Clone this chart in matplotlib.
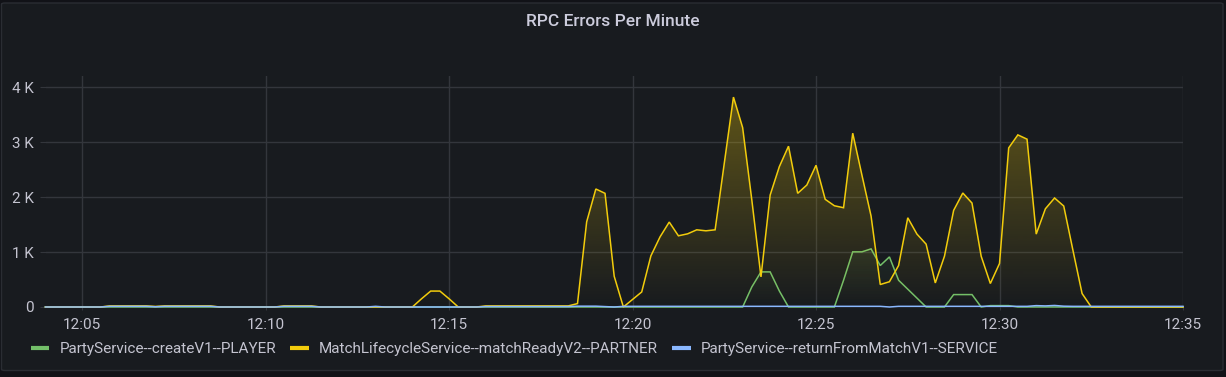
import numpy as np
import pandas as pd
import matplotlib
matplotlib.use('Agg')
import matplotlib.pyplot as plt
import matplotlib.dates as mdates
from matplotlib.colors import to_rgb
from matplotlib.lines import Line2D
from matplotlib.patches import FancyBboxPatch
from matplotlib.ticker import FuncFormatter, MultipleLocator

plt.rcParams['font.family'] = ['Roboto', 'DejaVu Sans']

day = '2023-01-01 '

series_names = [
    'PartyService--createV1--PLAYER',
    'MatchLifecycleService--matchReadyV2--PARTNER',
    'PartyService--returnFromMatchV1--SERVICE',
]
series_colors = ['#73BF69', '#F2CC0C', '#8AB8FF']

green_times = ['12:04:00', '12:23:00', '12:23:15', '12:23:30', '12:23:45', '12:24:00',
               '12:24:15', '12:25:30', '12:25:45', '12:26:00', '12:26:15', '12:26:30',
               '12:26:45', '12:27:00', '12:27:15', '12:28:00', '12:28:30', '12:28:45',
               '12:29:00', '12:29:15', '12:29:30', '12:29:45', '12:30:15', '12:30:30',
               '12:35:00']
green_values = [0, 0, 365, 639, 639, 292,
                0, 0, 487, 1004, 1004, 1058,
                755, 912, 487, 0, 0, 226,
                226, 226, 0, 25, 25, 0,
                0]

yellow_times = ['12:04:00', '12:05:30', '12:05:45', '12:06:45', '12:07:00', '12:07:15',
                '12:08:30', '12:08:45', '12:10:15', '12:10:30', '12:11:15', '12:11:30',
                '12:14:00', '12:14:15', '12:14:30', '12:14:45', '12:15:00', '12:15:15',
                '12:15:45', '12:16:00', '12:18:15', '12:18:30', '12:18:45', '12:19:00',
                '12:19:15', '12:19:30', '12:19:45', '12:20:00', '12:20:15', '12:20:30',
                '12:20:45', '12:21:00', '12:21:15', '12:21:30', '12:21:45', '12:22:00',
                '12:22:15', '12:22:30', '12:22:45', '12:23:00', '12:23:15', '12:23:30',
                '12:23:45', '12:24:00', '12:24:15', '12:24:30', '12:24:45', '12:25:00',
                '12:25:15', '12:25:30', '12:25:45', '12:26:00', '12:26:15', '12:26:30',
                '12:26:45', '12:27:00', '12:27:15', '12:27:30', '12:27:45', '12:28:00',
                '12:28:15', '12:28:30', '12:28:45', '12:29:00', '12:29:15', '12:29:30',
                '12:29:45', '12:30:00', '12:30:15', '12:30:30', '12:30:45', '12:31:00',
                '12:31:15', '12:31:30', '12:31:45', '12:32:00', '12:32:15', '12:32:30',
                '12:35:00']
yellow_values = [0, 0, 20, 20, 10, 20,
                 20, 0, 0, 20, 20, 0,
                 0, 150, 290, 290, 150, 0,
                 0, 20, 20, 62, 1551, 2148,
                 2069, 560, 0, 137, 274, 931,
                 1277, 1546, 1296, 1332, 1405, 1387,
                 1405, 2617, 3821, 3266, 1950, 548,
                 2038, 2555, 2927, 2069, 2221, 2580,
                 1960, 1843, 1807, 3164, 2403, 1655,
                 409, 460, 755, 1624, 1327, 1144,
                 438, 925, 1759, 2075, 1892, 925,
                 427, 792, 2896, 3133, 3055, 1327,
                 1788, 1984, 1838, 1035, 245, 0,
                 0]

blue_times = ['12:04:00', '12:05:30', '12:05:45', '12:06:45', '12:07:00', '12:07:15',
              '12:08:30', '12:08:45', '12:10:15', '12:10:30', '12:11:15', '12:11:30',
              '12:12:45', '12:13:00', '12:13:15', '12:15:45', '12:16:00', '12:18:15',
              '12:18:30', '12:19:00', '12:19:30', '12:19:45', '12:26:45', '12:27:00',
              '12:27:15', '12:30:45', '12:31:00', '12:31:15', '12:31:30', '12:31:45',
              '12:32:00', '12:35:00']
blue_values = [0, 0, 12, 12, 4, 12,
               12, 0, 0, 12, 12, 0,
               0, 12, 0, 0, 8, 8,
               15, 15, 0, 12, 12, 0,
               12, 12, 25, 20, 28, 15,
               12, 12]


def to_num(times):
    return mdates.date2num(pd.to_datetime([day + t for t in times]))


def gradient_fill(ax, x, y, color, top_alpha, ymax, z):
    poly = ax.fill_between(x, y, 0, facecolor='none', edgecolor='none')
    img = np.zeros((256, 1, 4))
    img[:, 0, :3] = to_rgb(color)
    img[:, 0, 3] = np.linspace(0, top_alpha, 256)
    im = ax.imshow(img, aspect='auto', origin='lower', interpolation='bilinear',
                   extent=[x.min(), x.max(), 0, ymax], zorder=z)
    im.set_clip_path(poly.get_paths()[0], transform=ax.transData)
    poly.remove()


W, H = 1226, 377
fig = plt.figure(figsize=(W / 100, H / 100), dpi=100, facecolor='#111217')

panel = FancyBboxPatch((1.5 / W, 1 - 370.5 / H), 1221.5 / W, 367.5 / H,
                       boxstyle='round,pad=0,rounding_size=0.003',
                       transform=fig.transFigure, facecolor='#181b1f',
                       edgecolor='#2a2d33', linewidth=1, zorder=-5)
fig.patches.append(panel)

ax_left, ax_right, ax_top, ax_bottom = 46, 1183, 76, 307
ax = fig.add_axes([ax_left / W, 1 - ax_bottom / H, (ax_right - ax_left) / W,
                   (ax_bottom - ax_top) / H])
ax.set_facecolor('none')

ymax = 4205
xmin = to_num(['12:04:01'])[0]
xmax = to_num(['12:35:00'])[0]

all_times = [green_times, yellow_times, blue_times]
all_values = [green_values, yellow_values, blue_values]

z = 2
for times, values, color in zip(all_times, all_values, series_colors):
    x = to_num(times)
    y = np.array(values, dtype=float)
    if color != series_colors[2]:
        gradient_fill(ax, x, y, color, 0.36, ymax, z)
    ax.plot(x, y, color=color, lw=1.1, zorder=z + 0.5, clip_on=False,
            solid_joinstyle='miter')
    z += 1

ax.set_xlim(xmin, xmax)
ax.set_ylim(0, ymax)

ax.xaxis.set_major_locator(mdates.MinuteLocator(byminute=range(0, 60, 5)))
ax.xaxis.set_major_formatter(mdates.DateFormatter('%H:%M'))
ax.yaxis.set_major_locator(MultipleLocator(1000))
ax.yaxis.set_major_formatter(FuncFormatter(
    lambda v, p: '0' if v == 0 else '%d K' % (v / 1000)))

grid_color = '#33363c'
ax.grid(True, color=grid_color, lw=1)
ax.set_axisbelow(True)
for s in ax.spines.values():
    s.set_visible(False)

ax.tick_params(axis='x', colors=grid_color, labelcolor='#c4c4d0', labelsize=11,
               length=2, pad=6)
ax.tick_params(axis='y', colors=grid_color, labelcolor='#c4c4d0', labelsize=11,
               length=4.5, pad=4)

fig.text(613 / W, 1 - 22 / H, 'RPC Errors Per Minute', ha='center', va='center',
         color='#ccccdc', fontsize=12.5, fontweight='medium')

handles = [Line2D([], [], color=c, lw=3, solid_capstyle='butt') for c in series_colors]
fig.legend(handles, series_names, loc='center left',
           bbox_to_anchor=(31 / W, 1 - 349.5 / H), ncol=3, frameon=False,
           fontsize=11, labelcolor='#c4c4d0', handlelength=1.2,
           handletextpad=0.65, columnspacing=0.95, borderpad=0, borderaxespad=0)

fig.savefig('out.png', dpi=100, facecolor=fig.get_facecolor())
